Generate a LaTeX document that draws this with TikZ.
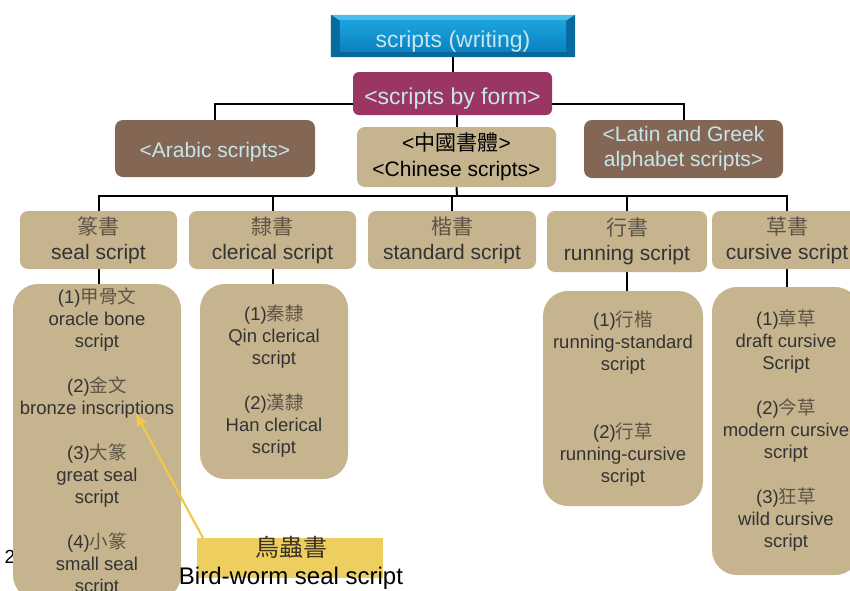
\documentclass[tikz,border=0pt]{standalone}
\usepackage{fontspec}
\setmainfont{Liberation Sans}
\newfontfamily\cjk{Noto Sans CJK TC}
\usetikzlibrary{backgrounds,arrows.meta}
\definecolor{bluebase}{HTML}{0A78B3}
\definecolor{bluelight}{HTML}{4DBDEB}
\definecolor{bluedark}{HTML}{08679A}
\definecolor{bluetop}{HTML}{1BA3DE}
\definecolor{bluebottom}{HTML}{0B82C2}
\definecolor{formred}{HTML}{9B3563}
\definecolor{paleblue}{HTML}{C6E6EC}
\definecolor{tanbox}{HTML}{C5B48E}
\definecolor{brownbox}{HTML}{836754}
\definecolor{inkdark}{HTML}{333333}
\definecolor{zhgray}{HTML}{5E5446}
\definecolor{birdyellow}{HTML}{EDCE5F}
\definecolor{pointeryellow}{HTML}{EFC94C}
\newcommand{\zh}[1]{{\cjk\color{zhgray}#1}}

\begin{document}
\begin{tikzpicture}[x=1pt, y=-1pt,
    box/.style={fill=tanbox, rounded corners=8pt, inner sep=0pt, align=center, text=inkdark, font=\fontsize{21}{25}\selectfont},
    darkbox/.style={box, fill=brownbox, text=paleblue},
    listbox/.style={box, rounded corners=25pt, font=\fontsize{18.5}{22}\selectfont},
    topbox/.style={inner sep=0pt, minimum width=244pt, minimum height=42pt, text=paleblue, text height=27pt, font=\fontsize{23}{27}\selectfont},
    link/.style={line width=2pt},
    pointer/.style={line width=2.2pt, draw=pointeryellow, -{Latex[length=14pt,width=11pt]}}]
  \useasboundingbox (0,0) rectangle (850,590);
  \clip (0,0) rectangle (850,590);

  % top levels
  \node[topbox] (top) at (453,36) {scripts (writing)};
  \node[box, fill=formred, text=paleblue, rounded corners=6pt, minimum width=199pt, minimum height=43pt, text height=27pt, font=\fontsize{23}{27}\selectfont] (form) at (452.5,93.5) {<scripts by form>};
  \node[darkbox, minimum width=200pt, minimum height=57pt, text height=22pt] (arabic) at (215,148.5) {<Arabic scripts>};
  \node[box, text=black, minimum width=199pt, minimum height=60pt, font=\fontsize{21}{26}\selectfont] (chinese) at (456.5,157) {<{\cjk 中國書體}>\\<Chinese scripts>};
  \node[darkbox, minimum width=199pt, minimum height=58pt] (latin) at (683.5,149) {<Latin and Greek\\alphabet scripts>};

  % scripts by form
  \node[box, minimum width=157pt, minimum height=58pt] (seal) at (98.5,240) {\zh{篆書}\\seal script};
  \node[box, minimum width=167pt, minimum height=58pt] (clerical) at (272.5,240) {\zh{隸書}\\clerical script};
  \node[box, minimum width=168pt, minimum height=58pt] (standard) at (452,240) {\zh{楷書}\\standard script};
  \node[box, minimum width=160pt, minimum height=61pt] (running) at (627,241.5) {\zh{行書}\\running script};
  \node[box, minimum width=150pt, minimum height=58pt] (cursive) at (787,240) {\zh{草書}\\cursive script};

  % sub-styles
  \node[font=\fontsize{19}{22}\selectfont] (pagenum) at (10,557) {2};
  \node[listbox, minimum width=168pt, minimum height=316pt] (seallist) at (97,442)
    {(1)\zh{甲骨文}\\oracle bone\\script\\[23pt](2)\zh{金文}\\bronze inscriptions\\[23pt](3)\zh{大篆}\\great seal\\script\\[23pt](4)\zh{小篆}\\small seal\\script};
  \node[listbox, minimum width=148pt, minimum height=195pt] (clericallist) at (274,381.5)
    {(1)\zh{秦隸}\\Qin clerical\\script\\[23pt](2)\zh{漢隸}\\Han clerical\\script};
  \node[listbox, minimum width=160pt, minimum height=215pt] (runninglist) at (623,398.5)
    {(1)\zh{行楷}\\running-standard\\script\\[46pt](2)\zh{行草}\\running-cursive\\script};
  \node[listbox, minimum width=148pt, minimum height=288pt] (cursivelist) at (786,431)
    {(1)\zh{章草}\\draft cursive\\Script\\[23pt](2)\zh{今草}\\modern cursive\\script\\[23pt](3)\zh{狂草}\\wild cursive\\script};

  % bird-worm note
  \node[font=\fontsize{24}{28}\selectfont, align=center, inner sep=0pt] (bird) at (291,563) {{\cjk\color[HTML]{3B3220}鳥蟲書}\\Bird-worm seal script};
  \coordinate (birdcorner) at (203,538);
  \coordinate (bronzetip) at (135,412);
  \draw[pointer] (birdcorner) -- (bronzetip);

  \begin{pgfonlayer}{background}
    \fill[birdyellow] (197,538) rectangle (383,578);
    % connectors
    \draw[link] (top.south) -- (top.south |- form.north);
    \draw[link] (arabic.north) |- ([yshift=11pt]form.south) -| (latin.north);
    \draw[link] (chinese.north |- form.south) -- (chinese.north);
    \coordinate (bus) at (457,196);
    \draw[link] (chinese.south) -- (bus);
    \draw[link] (seal.north) |- (bus) -| (cursive.north);
    \draw[link] (clerical.north) -- (clerical.north |- bus);
    \draw[link] (standard.north) -- (standard.north |- bus);
    \draw[link] (running.north) -- (running.north |- bus);
    \draw[link] (seal.south) -- (seal.south |- seallist.north);
    \draw[link] (clerical.south) -- (clerical.south |- clericallist.north);
    \draw[link] (running.south) -- (running.south |- runninglist.north);
    \draw[link] (cursive.south) -- (cursive.south |- cursivelist.north);
    % bevelled top box
    \fill[bluebase] (top.north west) rectangle (top.south east);
    \fill[bluelight] (top.north west) -- (top.north east) -- ([shift={(-9,6)}]top.north east) -- ([shift={(9,6)}]top.north west) -- cycle;
    \fill[bluedark] (top.south west) -- (top.south east) -- ([shift={(-9,-6)}]top.south east) -- ([shift={(9,-6)}]top.south west) -- cycle;
    \fill[bluedark!80!bluebase] (top.north west) -- ([shift={(9,6)}]top.north west) -- ([shift={(9,-6)}]top.south west) -- (top.south west) -- cycle;
    \fill[bluedark!80!bluebase] (top.north east) -- ([shift={(-9,6)}]top.north east) -- ([shift={(-9,-6)}]top.south east) -- (top.south east) -- cycle;
    \shade[top color=bluetop, bottom color=bluebottom] ([shift={(9,6)}]top.north west) rectangle ([shift={(-9,-6)}]top.south east);
  \end{pgfonlayer}
\end{tikzpicture}
\end{document}
